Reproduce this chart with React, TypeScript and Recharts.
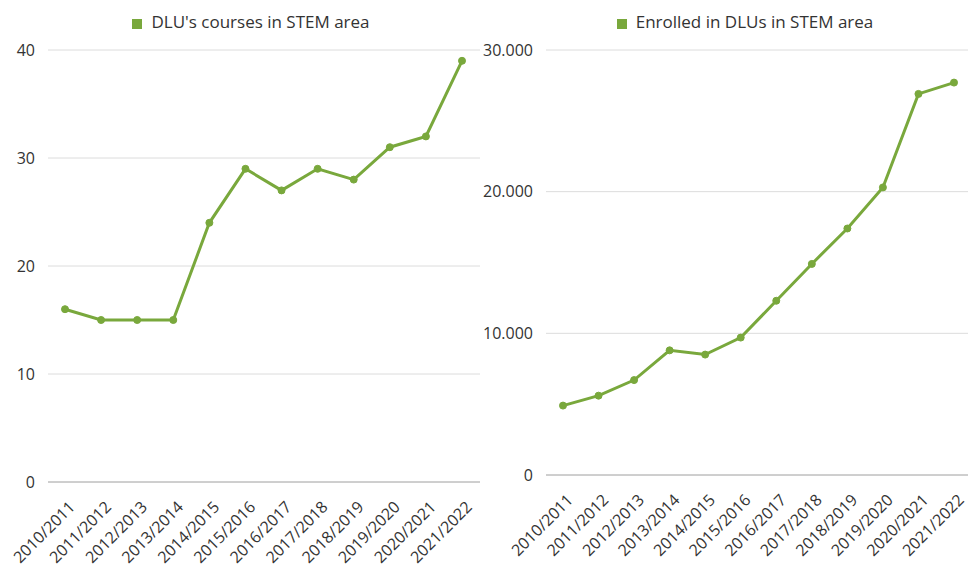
import React from "react";
import { LineChart, Line, XAxis, YAxis, CartesianGrid, Legend } from "recharts";

const seasons = [
  "2010/2011", "2011/2012", "2012/2013", "2013/2014", "2014/2015", "2015/2016",
  "2016/2017", "2017/2018", "2018/2019", "2019/2020", "2020/2021", "2021/2022",
];
const courses = [16, 15, 15, 15, 24, 29, 27, 29, 28, 31, 32, 39];
const enrolled = [4900, 5600, 6700, 8800, 8500, 9700, 12300, 14900, 17400, 20300, 26900, 27700];
const coursesTicks = [0, 10, 20, 30, 40];
const enrolledTicks = [0, 10000, 20000, 30000];

const coursesName = "DLU's courses in STEM area";
const enrolledName = "Enrolled in DLUs in STEM area";

const coursesData = seasons.map((s, i) => ({ season: s, value: courses[i] }));
const enrolledData = seasons.map((s, i) => ({ season: s, value: enrolled[i] }));

const GREEN = "#79a83c";
const FONT = "'Open Sans', sans-serif";
const TEXT = "#333333";

const fmtThousands = (v: number) => String(v).replace(/\B(?=(\d{3})+(?!\d))/g, ".");

const AngledTick = (props: any) => {
  const { x, y, payload } = props;
  return (
    <g transform={`translate(${x + 3},${y + 10})`}>
      <text
        x={0}
        y={0}
        dy="0.71em"
        textAnchor="end"
        transform="rotate(-45)"
        fill={TEXT}
        fontSize={16}
        fontFamily={FONT}
      >
        {payload.value}
      </text>
    </g>
  );
};

const legendFormatter = (v: any) => (
  <span style={{ color: TEXT, fontSize: 17, fontFamily: FONT, paddingLeft: 5 }}>{v}</span>
);

export default function App() {
  const yTickStyle = { fill: TEXT, fontSize: 16, fontFamily: FONT };
  return (
    <div style={{ position: "absolute", left: 0, top: 0, width: 968, height: 567, background: "#fff", fontFamily: FONT }}>
      <div style={{ position: "absolute", left: 0, top: 0 }}>
        <LineChart width={480} height={567} data={coursesData} margin={{ top: 27, right: 0, bottom: 0, left: 0 }}>
          <CartesianGrid horizontal vertical={false} stroke="#dcdcdc" />
          <Legend
            verticalAlign="top"
            align="center"
            iconType="square"
            iconSize={10}
            wrapperStyle={{ top: 10, left: 16 }}
            formatter={legendFormatter}
          />
          <XAxis
            dataKey="season"
            interval={0}
            height={85}
            tick={<AngledTick />}
            tickLine={false}
            axisLine={{ stroke: "#b0b0b0" }}
            padding={{ left: 17, right: 18 }}
          />
          <YAxis
            width={48}
            domain={[0, 40]}
            ticks={coursesTicks}
            tick={yTickStyle}
            tickLine={false}
            axisLine={false}
            tickMargin={7}
          />
          <Line
            name={coursesName}
            dataKey="value"
            stroke={GREEN}
            strokeWidth={3}
            dot={{ r: 3.5, fill: GREEN, stroke: GREEN, strokeWidth: 1 }}
            isAnimationActive={false}
          />
        </LineChart>
      </div>
      <div style={{ position: "absolute", left: 480, top: 0 }}>
        <LineChart width={488} height={567} data={enrolledData} margin={{ top: 27, right: 0, bottom: 0, left: 0 }}>
          <CartesianGrid horizontal vertical={false} stroke="#dcdcdc" />
          <Legend
            verticalAlign="top"
            align="center"
            iconType="square"
            iconSize={10}
            wrapperStyle={{ top: 10, left: 26 }}
            formatter={legendFormatter}
          />
          <XAxis
            dataKey="season"
            interval={0}
            height={92}
            tick={<AngledTick />}
            tickLine={false}
            axisLine={{ stroke: "#b0b0b0" }}
            padding={{ left: 17, right: 14 }}
          />
          <YAxis
            width={66}
            domain={[0, 30000]}
            ticks={enrolledTicks}
            tickFormatter={fmtThousands}
            tick={yTickStyle}
            tickLine={false}
            axisLine={false}
            tickMargin={7}
          />
          <Line
            name={enrolledName}
            dataKey="value"
            stroke={GREEN}
            strokeWidth={3}
            dot={{ r: 3.5, fill: GREEN, stroke: GREEN, strokeWidth: 1 }}
            isAnimationActive={false}
          />
        </LineChart>
      </div>
    </div>
  );
}
